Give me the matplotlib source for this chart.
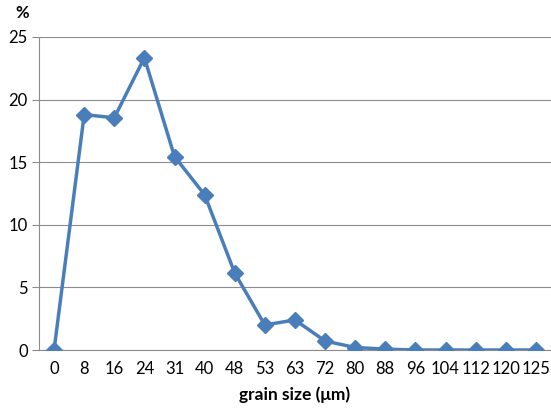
import numpy as np
import matplotlib.pyplot as plt

sizes = ['0', '8', '16', '24', '31', '40', '48', '53', '63', '72', '80',
         '88', '96', '104', '112', '120', '125']
percent = [0, 18.8, 18.55, 23.35, 15.45, 12.4, 6.15, 2.0, 2.4, 0.72, 0.2,
           0.07, 0, 0, 0, 0, 0]

plt.rcParams['font.family'] = ['Lato', 'DejaVu Sans']

fig = plt.figure(figsize=(5.51, 4.11), dpi=100)
ax = fig.add_axes([0.0708, 0.1484, 0.929, 0.7616])

x = np.arange(len(sizes))
ax.plot(x, percent, color='#4a7ebb', lw=2.5, marker='D', ms=8.5,
        markeredgecolor='#4a7ebb', markerfacecolor='#4a7ebb', zorder=3)

ax.set_xlim(-0.5, len(sizes) - 0.5)
ax.set_ylim(0, 25)
ax.set_yticks(range(0, 26, 5))
ax.set_xticks(x)
ax.set_xticklabels(sizes)

ax.grid(axis='y', color='#8c8c8c', lw=0.8)
ax.set_axisbelow(True)
for s in ['top', 'right']:
    ax.spines[s].set_visible(False)
ax.spines['left'].set_color('#8c8c8c')
ax.spines['bottom'].set_color('#8c8c8c')
ax.tick_params(axis='y', length=5, color='#8c8c8c', labelsize=12, pad=3)
ax.tick_params(axis='x', length=0, labelsize=12, pad=8)

ax.set_xlabel('grain size (μm)', fontsize=12.5, fontweight='bold', labelpad=7)
fig.text(0.027, 0.968, '%', fontsize=12, fontweight='bold', va='center')

fig.savefig('out.png', dpi=100)
